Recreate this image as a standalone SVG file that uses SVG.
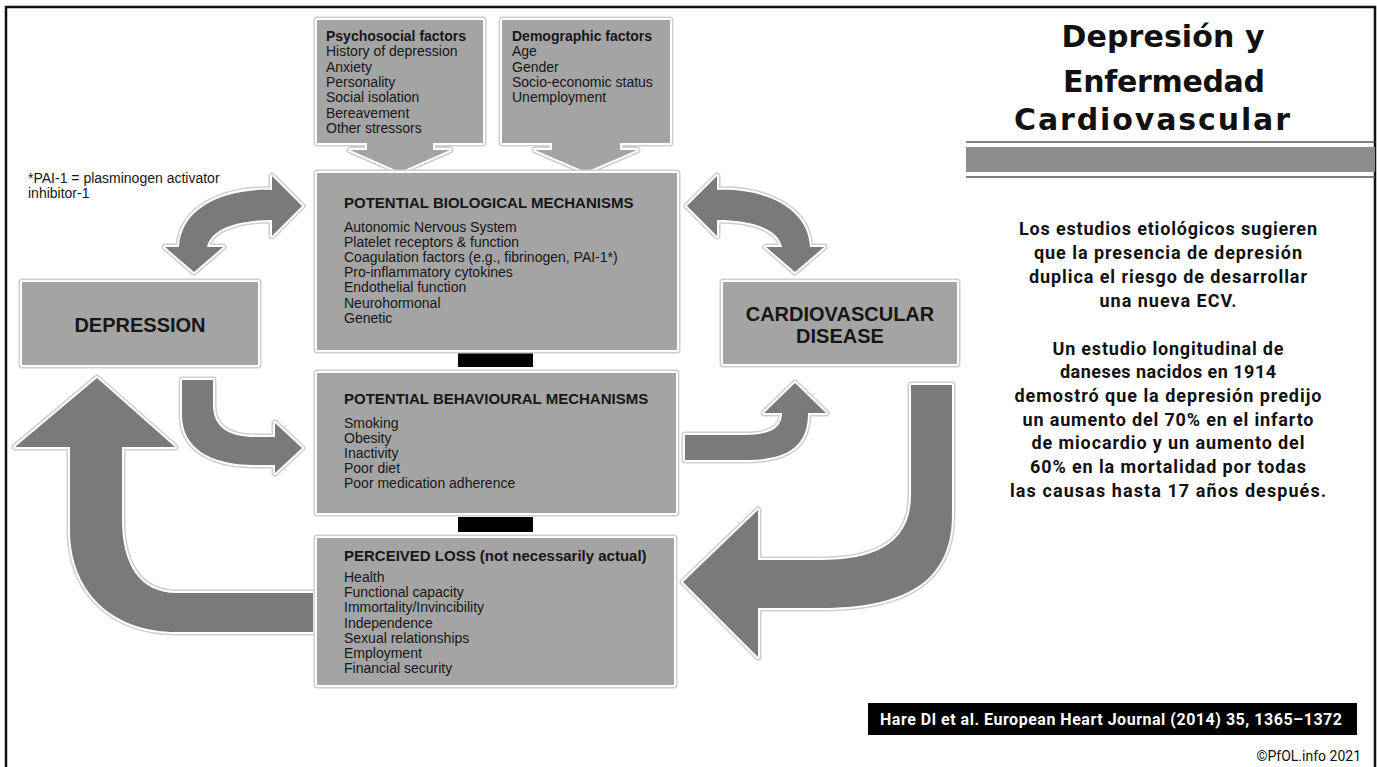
<svg xmlns="http://www.w3.org/2000/svg" width="1377" height="767" viewBox="0 0 1377 767">
<defs>
<style>
.frame{fill:none;stroke:#111;stroke-width:2.5}
.box{fill:#a4a4a4}
.blk{fill:#000}
.arr{fill:#7a7a7a}
.hl{fill:none;stroke:#cfcfcf;stroke-width:7;stroke-linejoin:round}
.gap{fill:none;stroke:#fff;stroke-width:4;stroke-linejoin:round}
.t{font-family:"Liberation Sans",Arial,sans-serif;fill:#161616;font-size:14px}
.hb{font-weight:700}
.h15{font-size:15px;font-weight:700}
.big{font-size:20px;font-weight:700;text-anchor:middle}
.es{font-family:Roboto,"DejaVu Sans",sans-serif;font-weight:700;fill:#111;text-anchor:middle}
.ttl{font-family:"DejaVu Sans",Roboto,sans-serif;font-weight:700;fill:#111;text-anchor:middle;font-size:30px}
.sep{stroke:#555;stroke-width:1.5}
</style>
<path id="aA" d="M272,190 C229,188 181,205 179,247 L165,247 L194,272 L223,247 L207,247 C211,228 239,220 272,220 L272,236 L302,206 L272,176 Z"/>
<path id="aB" d="M717,190 C760,188 808,205 810,247 L824,247 L795,272 L766,247 L782,247 C778,228 750,220 717,220 L717,236 L687,206 L717,176 Z"/>
<path id="aC" d="M182,380 L213,380 L213,405 C213,428 230,437 255,437 L275,437 L275,423 L302,448 L275,473 L275,465 L255,465 C210,465 182,448 182,415 Z"/>
<path id="aD" d="M685,435 L745,435 C770,435 782,428 782,413 L764,413 L795,383 L826,413 L808,413 C808,445 790,460 745,460 L685,460 Z"/>
<path id="aE" d="M911,385 L952,385 L952,515 C952,585 900,608 820,608 L758,608 L758,657 L683,582 L758,510 L758,560 L820,560 C880,560 911,540 911,495 Z"/>
<path id="aF" d="M313,593 L177,593 C140,593 122,565 122,520 L122,447 L175,447 L97,378 L15,447 L70,447 L70,530 C70,590 110,632 177,632 L313,632 Z"/>
<polygon id="pPsy" points="317,20 483,20 483,143 433,143 433,150 450,150 400,172 350,150 367,150 367,143 317,143"/>
<polygon id="pDem" points="502,20 670,20 670,143 620,143 620,150 637,150 586,172 535,150 552,150 552,143 502,143"/>
<rect id="rBio" x="317" y="173" width="360" height="177"/>
<rect id="rBeh" x="317" y="373" width="359" height="140"/>
<rect id="rLoss" x="317" y="538" width="357" height="147"/>
<rect id="rDep" x="22" y="282" width="236" height="83"/>
<rect id="rCvd" x="723" y="282" width="234" height="82"/>
</defs>
<rect x="0" y="0" width="1377" height="767" fill="#fff"/>
<path class="frame" d="M6,768 L6,7 L1375,7 L1375,768"/>

<g id="connectors">
<use href="#aA" class="hl"/><use href="#aA" class="gap"/><use href="#aA" class="arr"/>
<use href="#aB" class="hl"/><use href="#aB" class="gap"/><use href="#aB" class="arr"/>
<use href="#aC" class="hl"/><use href="#aC" class="gap"/><use href="#aC" class="arr"/>
<use href="#aD" class="hl"/><use href="#aD" class="gap"/><use href="#aD" class="arr"/>
<use href="#aE" class="hl"/><use href="#aE" class="gap"/><use href="#aE" class="arr"/>
<use href="#aF" class="hl"/><use href="#aF" class="gap"/><use href="#aF" class="arr"/>
<rect class="blk" x="458" y="353" width="75" height="14"/>
<rect class="blk" x="458" y="517" width="75" height="15"/>
</g>

<g id="psychosocial">
<use href="#pPsy" class="hl"/><use href="#pPsy" class="gap"/><use href="#pPsy" class="box"/>
<text class="t" x="326" y="41"><tspan class="hb">Psychosocial factors</tspan><tspan x="326" dy="15.3">History of depression</tspan><tspan x="326" dy="15.3">Anxiety</tspan><tspan x="326" dy="15.3">Personality</tspan><tspan x="326" dy="15.3">Social isolation</tspan><tspan x="326" dy="15.3">Bereavement</tspan><tspan x="326" dy="15.3">Other stressors</tspan></text>
</g>

<g id="demographic">
<use href="#pDem" class="hl"/><use href="#pDem" class="gap"/><use href="#pDem" class="box"/>
<text class="t" x="512" y="41"><tspan class="hb">Demographic factors</tspan><tspan x="512" dy="15.3">Age</tspan><tspan x="512" dy="15.3">Gender</tspan><tspan x="512" dy="15.3">Socio-economic status</tspan><tspan x="512" dy="15.3">Unemployment</tspan></text>
</g>

<g id="biological">
<use href="#rBio" class="hl"/><use href="#rBio" class="gap"/><use href="#rBio" class="box"/>
<text class="t h15" x="344" y="208">POTENTIAL BIOLOGICAL MECHANISMS</text>
<text class="t" x="344" y="232">Autonomic Nervous System<tspan x="344" dy="15.1">Platelet receptors &amp; function</tspan><tspan x="344" dy="15.1">Coagulation factors (e.g., fibrinogen, PAI-1*)</tspan><tspan x="344" dy="15.1">Pro-inflammatory cytokines</tspan><tspan x="344" dy="15.1">Endothelial function</tspan><tspan x="344" dy="15.1">Neurohormonal</tspan><tspan x="344" dy="15.1">Genetic</tspan></text>
</g>

<g id="behavioural">
<use href="#rBeh" class="hl"/><use href="#rBeh" class="gap"/><use href="#rBeh" class="box"/>
<text class="t h15" x="344" y="404">POTENTIAL BEHAVIOURAL MECHANISMS</text>
<text class="t" x="344" y="428">Smoking<tspan x="344" dy="15">Obesity</tspan><tspan x="344" dy="15">Inactivity</tspan><tspan x="344" dy="15">Poor diet</tspan><tspan x="344" dy="15">Poor medication adherence</tspan></text>
</g>

<g id="perceived-loss">
<use href="#rLoss" class="hl"/><use href="#rLoss" class="gap"/><use href="#rLoss" class="box"/>
<text class="t h15" x="344" y="561">PERCEIVED LOSS (not necessarily actual)</text>
<text class="t" x="344" y="582">Health<tspan x="344" dy="15.2">Functional capacity</tspan><tspan x="344" dy="15.2">Immortality/Invincibility</tspan><tspan x="344" dy="15.2">Independence</tspan><tspan x="344" dy="15.2">Sexual relationships</tspan><tspan x="344" dy="15.2">Employment</tspan><tspan x="344" dy="15.2">Financial security</tspan></text>
</g>

<g id="depression">
<use href="#rDep" class="hl"/><use href="#rDep" class="gap"/><use href="#rDep" class="box"/>
<text class="t big" x="140" y="332">DEPRESSION</text>
</g>

<g id="cardiovascular-disease">
<use href="#rCvd" class="hl"/><use href="#rCvd" class="gap"/><use href="#rCvd" class="box"/>
<text class="t big" x="840" y="321">CARDIOVASCULAR<tspan x="840" dy="22">DISEASE</tspan></text>
</g>

<g id="pai-note">
<text class="t" x="28" y="183">*PAI-1 = plasminogen activator<tspan x="28" dy="14.5">inhibitor-1</tspan></text>
</g>

<g id="title">
<text class="ttl" x="1163" y="47" textLength="203">Depresión y</text>
<text class="ttl" x="1164" y="92" textLength="202">Enfermedad</text>
<text class="ttl" x="1152" y="130" textLength="276">Cardiovascular</text>
<line class="sep" x1="966" y1="142" x2="1375" y2="142"/>
<rect x="966" y="147" width="409" height="25" fill="#8c8c8c"/>
<line class="sep" x1="966" y1="177" x2="1375" y2="177"/>
</g>

<g id="summary">
<text class="es" font-size="18" x="1168" y="235" textLength="298">Los estudios etiológicos sugieren</text>
<text class="es" font-size="18" x="1168" y="259" textLength="268">que la presencia de depresión</text>
<text class="es" font-size="18" x="1168" y="283" textLength="278">duplica el riesgo de desarrollar</text>
<text class="es" font-size="18" x="1168" y="307" textLength="137">una nueva ECV.</text>
<text class="es" font-size="18" x="1168" y="355" textLength="231">Un estudio longitudinal de</text>
<text class="es" font-size="18" x="1168" y="378" textLength="216">daneses nacidos en 1914</text>
<text class="es" font-size="18" x="1168" y="402" textLength="307">demostró que la depresión predijo</text>
<text class="es" font-size="18" x="1168" y="426" textLength="291">un aumento del 70% en el infarto</text>
<text class="es" font-size="18" x="1168" y="449" textLength="273">de miocardio y un aumento del</text>
<text class="es" font-size="18" x="1168" y="473" textLength="276">60% en la mortalidad por todas</text>
<text class="es" font-size="18" x="1168" y="497" textLength="316">las causas hasta 17 años después.</text>
</g>

<g id="citation">
<rect x="868" y="703" width="489" height="32" fill="#000"/>
<text class="es" font-size="16" x="1111" y="725" style="fill:#fff" textLength="462">Hare Dl et al. European Heart Journal (2014) 35, 1365–1372</text>
<text x="1361" y="761" font-family="Roboto,'DejaVu Sans',sans-serif" font-size="14" text-anchor="end" fill="#111">©PfOL.info 2021</text>
</g>
</svg>
